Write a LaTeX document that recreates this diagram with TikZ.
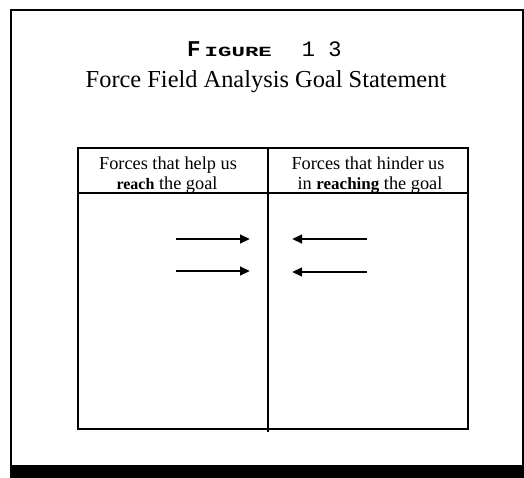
\documentclass[tikz,border=0pt]{standalone}
\usepackage{graphicx}
\usepackage{fontspec}
\setmainfont{Liberation Serif}
\newfontfamily\monofam{Liberation Mono}
\usetikzlibrary{arrows.meta}
\begin{document}
\begin{tikzpicture}[x=1pt,y=-1pt,
  frameline/.style={line width=2pt},
  tabline/.style={line width=2pt},
  headline/.style={line width=1.3pt},
  force/.style={line width=2.6pt,-{Triangle[length=10pt,width=8.5pt]}},
  lbl/.style={inner sep=0pt,anchor=base,font=\fontsize{18.3}{20}\selectfont}]
\useasboundingbox (0,0) rectangle (524,478);
% outer frame
\draw[frameline] (11,465) -- (11,10) -- (524,10);
\draw[frameline] (523,10) -- (523,465);
\fill (10,465) rectangle (524,478);
% title
\node[inner sep=0pt,anchor=base west] (fig) at (187,57) {\monofam\bfseries\fontsize{22.5}{24}\selectfont F\hspace{4pt}\fontsize{14}{15}\selectfont\scalebox{1.6}[1]{IGURE}\hspace{30pt}\mdseries\fontsize{22}{24}\selectfont 1 3};
\node[inner sep=0pt,anchor=base] (title) at (266,88) {\fontsize{24.4}{26}\selectfont Force Field Analysis Goal Statement};
% table
\draw[tabline] (78,148) rectangle (468,429);
\draw[headline] (78,193) -- (468,193);
\draw[tabline] (268,148) -- (268,432);
% headers
\node[lbl] (h1a) at (168,170) {Forces that help us};
\node[lbl] (h1b) at (167,190) {{\fontseries{sb}\bfseries\fontsize{16}{18}\selectfont reach} the goal};
\node[lbl] (h2a) at (368,170) {Forces that hinder us};
\node[lbl] (h2b) at (370,190) {in {\bfseries\fontsize{17}{18}\selectfont reaching} the goal};
% arrows
\coordinate (a1s) at (176,239);
\coordinate (a1e) at (250,239);
\coordinate (a2s) at (176,271);
\coordinate (a2e) at (250,271);
\coordinate (b1s) at (367,239);
\coordinate (b1e) at (292,239);
\coordinate (b2s) at (367,272);
\coordinate (b2e) at (292,272);
\draw[force] (a1s) -- (a1e);
\draw[force] (a2s) -- (a2e);
\draw[force] (b1s) -- (b1e);
\draw[force] (b2s) -- (b2e);
\end{tikzpicture}
\end{document}
